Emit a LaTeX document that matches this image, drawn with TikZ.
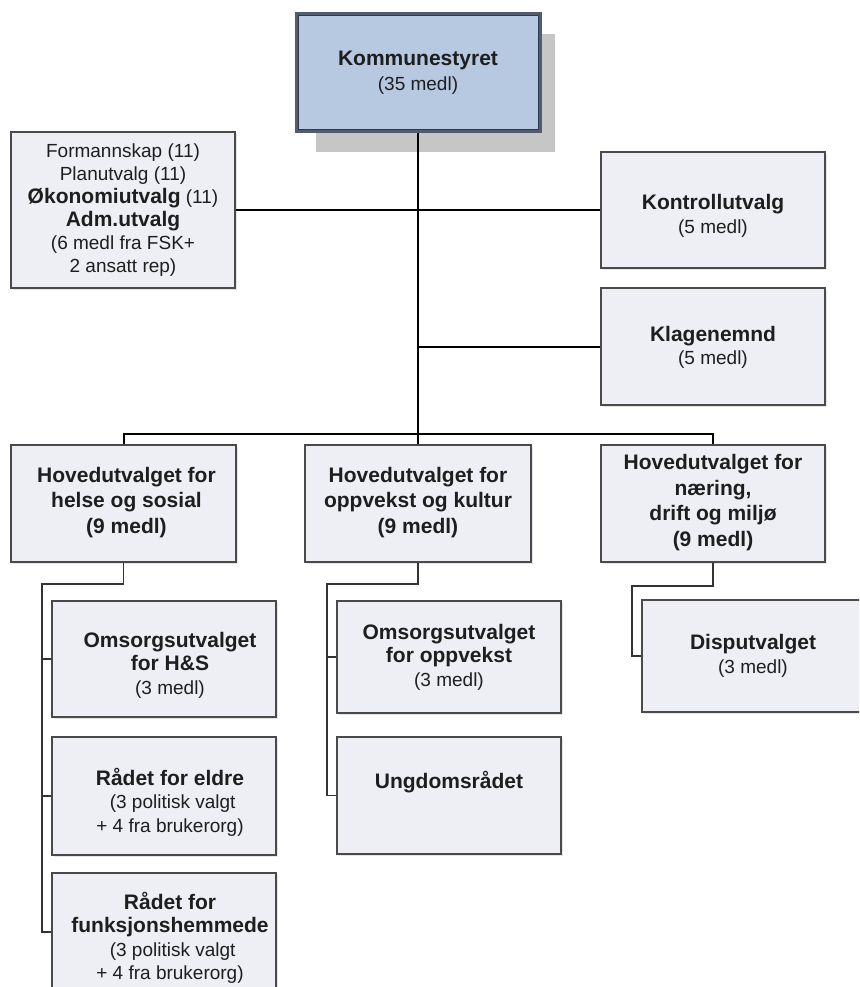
\documentclass[tikz,border=0pt]{standalone}
\usepackage{fontspec}
\setmainfont{Liberation Sans}
\usetikzlibrary{shadows}

\definecolor{boxfill}{HTML}{EDEFF4}
\definecolor{boxline}{HTML}{4A4A4A}
\definecolor{topfill}{HTML}{B7C8E1}
\definecolor{topline}{HTML}{525C6C}
\definecolor{topinner}{HTML}{2E3A50}
\definecolor{topshadow}{HTML}{C6C6C6}
\definecolor{inkc}{HTML}{1E1E1E}

\tikzset{
  orgbox/.style={draw=boxline, line width=1.9pt, fill=boxfill, inner sep=0pt,
    drop shadow={shadow xshift=2pt, shadow yshift=-2pt, opacity=0.25, fill=black!40}},
  orgtext/.style={align=center, text=inkc, inner sep=0pt},
  mainline/.style={line width=2pt, black},
  subline/.style={line width=1.9pt, black!80},
}

% bold line inside a mixed node
\newcommand{\bt}[1]{{\fontsize{21}{23}\selectfont\bfseries #1}}
% regular / bold node fonts
\newcommand{\rgfont}{\fontsize{19}{23.5}\selectfont}
\newcommand{\bdfont}{\fontsize{21}{25.5}\selectfont\bfseries}

% \obox{name}{x1}{y1}{x2}{y2}{text dx}{text dy}{font}{text}
\newcommand{\obox}[9]{%
  \node[orgbox, minimum width={(#4)-(#2)}, minimum height={(#5)-(#3)}]
    (#1) at ({((#2)+(#4))/2},{((#3)+(#5))/2}) {};
  \node[orgtext, font=#8] (#1-t) at ([shift={(#6,#7)}]#1.center) {#9};}

\begin{document}
\begin{tikzpicture}[x=1pt, y=-1pt]
\useasboundingbox (0,0) rectangle (859,987);
\clip (0,0) rectangle (859,987);

% council box with its offset shadow and inner frame line
\fill[topshadow] (316,34) rectangle (555,152);
\node[draw=topline, line width=3pt, fill=topfill,
      minimum width=244, minimum height=118, inner sep=0pt]
  (komm) at (418,73) {};
\draw[topinner, line width=1pt]
  ([shift={(3.5,3.5)}]komm.north west) rectangle ([shift={(-3.5,-3.5)}]komm.south east);
\node[orgtext, font={\fontsize{19}{25}\selectfont}] (komm-t) at (komm.center)
  {\bt{Kommunestyret}\\(35 medl)};

% committees directly under the council
\obox{fsk}{11}{132}{235}{288}{0}{0}{{\fontsize{19}{23}\selectfont}}
  {Formannskap (11)\\Planutvalg (11)\\\bt{Økonomiutvalg} (11)\\\bt{Adm.utvalg}\\(6 medl fra FSK+\\2 ansatt rep)}
\obox{kontroll}{601}{152}{825}{268}{0}{6}{\rgfont}
  {\bt{Kontrollutvalg}\\(5 medl)}
\obox{klage}{601}{288}{825}{405}{0}{1}{\rgfont}
  {\bt{Klagenemnd}\\(5 medl)}

% main committees
\obox{hov1}{11}{445}{236}{562}{3}{-1}{\bdfont}
  {Hovedutvalget for\\helse og sosial\\(9 medl)}
\obox{hov2}{305}{445}{531}{562}{0}{-1}{\bdfont}
  {Hovedutvalget for\\oppvekst og kultur\\(9 medl)}
\obox{hov3}{601}{445}{825}{562}{0}{-1}{\bdfont}
  {Hovedutvalget for\\næring,\\drift og miljø\\(9 medl)}

% sub-committees, health and social
\obox{oms1}{52}{601}{276}{717}{6}{6}{\rgfont}
  {\bt{Omsorgsutvalget}\\\bt{for H\&S}\\(3 medl)}
\obox{eldre}{52}{737}{276}{855}{6}{6}{\rgfont}
  {\bt{Rådet for eldre}\\\ (3 politisk valgt\\+ 4 fra brukerorg)}
\obox{funk}{52}{873}{276}{991}{6}{6}{\rgfont}
  {\bt{Rådet for}\\\bt{funksjonshemmede}\\\ (3 politisk valgt\\+ 4 fra brukerorg)}

% sub-committees, upbringing and culture
\obox{oms2}{337}{601}{561}{713}{0}{0}{\rgfont}
  {\bt{Omsorgsutvalget}\\\bt{for oppvekst}\\(3 medl)}
\obox{ungdom}{337}{737}{561}{854}{0}{-13}{\bdfont}
  {Ungdomsrådet}

% sub-committee, business and environment
\obox{disp}{642}{600}{864}{712}{0}{0}{\rgfont}
  {\bt{Disputvalget}\\(3 medl)}

% bus levels and elbows
\coordinate (bus) at (0,434);
\coordinate (ls) at (42,584);
\coordinate (ms) at (327,584);
\coordinate (rs) at (632,586);

% council trunk and side branches
\draw[mainline] (komm.south) -- (komm.south |- bus);
\draw[mainline] (fsk.east) -- (kontroll.west);
\draw[mainline] (komm.south |- klage.west) -- (klage.west);
\draw[mainline] (hov1.north) |- (hov3.north |- bus) -- (hov3.north);
\draw[mainline] (hov2.north) -- (hov2.north |- bus);

% health and social subtree
\draw[subline] (hov1.south) |- (ls) |- (funk.west);
\draw[subline] (ls |- oms1.west) -- (oms1.west);
\draw[subline] (ls |- eldre.west) -- (eldre.west);

% upbringing and culture subtree
\draw[subline] (hov2.south) |- (ms) |- (ungdom.west);
\draw[subline] (ms |- oms2.west) -- (oms2.west);

% business and environment subtree
\draw[subline] (hov3.south) |- (rs) |- (disp.west);
\end{tikzpicture}
\end{document}
